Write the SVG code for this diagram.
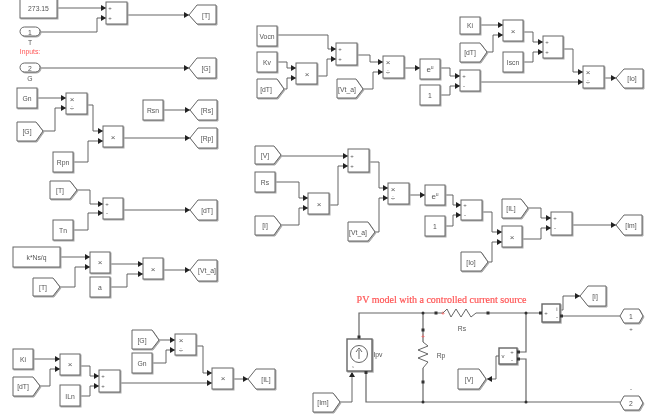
<svg xmlns="http://www.w3.org/2000/svg" width="661" height="419" viewBox="0 0 661 419">
<style>
text{font-family:"Liberation Sans",Arial,sans-serif;font-size:6.800px;fill:#555;text-anchor:middle;dominant-baseline:central}
.s{fill:#fff;stroke:#666;stroke-width:1;filter:drop-shadow(1px 1px 0 #aaa)}
.c path{fill:none;stroke:#555;stroke-width:.9}
.c .a{marker-end:url(#ah)}
.c .p{stroke:#666;stroke-width:1.2}
.t{font-size:6px}
.m{font-size:8px}
.r{fill:#f55}
.d{fill:#333;stroke:none}
.z{fill:none;stroke:#555;stroke-width:.9}
.th{stroke-width:1.400}
</style>
<defs>
<marker id="ah" markerUnits="userSpaceOnUse" markerWidth="6" markerHeight="6" refX="5" refY="3" orient="auto"><path d="M0 0L5 3L0 6Z" fill="#222"/></marker>
<filter id="soft" filterUnits="userSpaceOnUse" x="0" y="0" width="661" height="419"><feGaussianBlur stdDeviation="0.35"/></filter>
</defs>
<rect width="661" height="419" fill="#fff"/>
<g id="diagram" filter="url(#soft)">
<g class="c" id="connectors">
<path class="a" d="M57 8H106"/><path class="a" d="M40 32H97V18H106"/><path class="a" d="M127 15H189"/>
<path class="a" d="M40 68H189"/>
<path class="a" d="M37 98H66"/><path class="a" d="M43 131H55V108H66"/><path class="a" d="M87 105H93V131H103"/><path class="a" d="M73 162H88V141H103"/><path class="a" d="M123 138H190"/><path class="a" d="M163 110H190"/>
<path class="a" d="M77 190H90V204H103"/><path class="a" d="M73 230H88V213H103"/><path class="a" d="M123 210H190"/>
<path class="a" d="M60 257H90"/><path class="a" d="M60 287H75V267H90"/><path class="a" d="M110 264H143"/><path class="a" d="M110 287H127V274H143"/><path class="a" d="M163 270H190"/>
<path class="a" d="M33 359H60"/><path class="a" d="M40 386H50V369H60"/><path class="a" d="M80 366H90V376H99"/><path class="a" d="M80 396H90V386H99"/><path class="a" d="M120 383H212"/><path class="a" d="M159 340H175"/><path class="a" d="M152 363H166V350H175"/><path class="a" d="M196 346H203V373H212"/><path class="a" d="M233 379H248"/>
<path class="a" d="M277 35H328V49H336"/><path class="a" d="M277 62H287V68H296"/><path class="a" d="M284 89H287V78H296"/><path class="a" d="M317 76H327V59H336"/><path class="a" d="M357 55H370V62H383"/><path class="a" d="M363 89H373V72H383"/><path class="a" d="M404 68H420"/><path class="a" d="M440 68H450V76H460"/><path class="a" d="M440 95H450V86H460"/><path class="a" d="M480 82H583"/><path class="a" d="M480 25H503"/><path class="a" d="M487 52H493V35H503"/><path class="a" d="M523 32H533V42H543"/><path class="a" d="M523 62H533V52H543"/><path class="a" d="M563 49H573V72H583"/><path class="a" d="M604 78H616"/>
<path class="a" d="M281 156H348"/><path class="a" d="M275 182H299V198H308"/><path class="a" d="M281 225H299V208H308"/><path class="a" d="M329 205H338V166H348"/><path class="a" d="M369 162H379V188H388"/><path class="a" d="M375 232H379V198H388"/><path class="a" d="M409 195H425"/><path class="a" d="M445 195H453V205H461"/><path class="a" d="M445 226H453V215H461"/><path class="a" d="M482 212H492V232H502"/><path class="a" d="M488 262H492V242H502"/><path class="a" d="M522 239H541V228H551"/><path class="a" d="M528 208H541V218H551"/><path class="a" d="M572 225H616"/>
<path class="p" d="M359 339V313H443"/><path class="p" d="M484 313H542"/><path class="p" d="M366 371V402H620"/><path class="p" d="M423 313V342"/><path class="p" d="M423 368V402"/><path class="p" d="M560 316H620"/><path class="p" d="M518 352H526V313"/><path class="p" d="M518 359H526V402"/>
<path class="a" d="M340 402H352V372"/><path class="a" d="M561 310H563V296H580"/><path class="a" d="M499 356H496V379H487"/>
</g>
<g id="n-const-27315"><rect class="s" x="20" y="-1" width="37" height="19"/><text x="38.500" y="8">273.15</text></g>
<g id="n-sum-t"><rect class="s" x="106" y="2" width="21" height="22"/><text class="t" x="110" y="8">+</text><text class="t" x="110" y="18">+</text></g>
<g id="n-goto-t"><path class="s" d="M189 15L197 5H216V24H197Z"/><text x="206" y="15">[T]</text></g>
<g id="n-in-t"><rect class="s" x="20" y="27" width="20" height="9" rx="4.500"/><text x="30" y="32">1</text><text x="30" y="42">T</text></g>
<text class="r" x="30" y="51">Inputs:</text>
<g id="n-in-g"><rect class="s" x="20" y="63" width="20" height="9" rx="4.500"/><text x="30" y="68">2</text><text x="30" y="78">G</text></g>
<g id="n-goto-g"><path class="s" d="M189 68L197 58H216V78H197Z"/><text x="206" y="68">[G]</text></g>
<g id="n-gn1"><rect class="s" x="17" y="88" width="20" height="20"/><text x="27" y="98">Gn</text></g>
<g id="n-from-g1"><path class="s" d="M17 122H36L43 131L36 141H17Z"/><text x="27" y="131">[G]</text></g>
<g id="n-div1"><rect class="s" x="66" y="93" width="21" height="21"/><text class="m" x="72" y="99">×</text><text class="m" x="72" y="108">÷</text></g>
<g id="n-mul1"><rect class="s" x="103" y="126" width="20" height="21"/><text class="m" x="113" y="137">×</text></g>
<g id="n-rpn"><rect class="s" x="53" y="152" width="20" height="20"/><text x="63" y="162">Rpn</text></g>
<g id="n-rsn"><rect class="s" x="143" y="100" width="20" height="20"/><text x="153" y="110">Rsn</text></g>
<g id="n-goto-rs"><path class="s" d="M190 110L198 100H217V120H198Z"/><text x="207" y="110">[Rs]</text></g>
<g id="n-goto-rp"><path class="s" d="M190 138L198 128H217V148H198Z"/><text x="207" y="138">[Rp]</text></g>
<g id="n-from-t1"><path class="s" d="M50 181H70L77 190L70 199H50Z"/><text x="60" y="190">[T]</text></g>
<g id="n-sum-dt"><rect class="s" x="103" y="198" width="20" height="21"/><text class="t" x="107" y="204">+</text><text class="t" x="107" y="213">-</text></g>
<g id="n-tn"><rect class="s" x="53" y="220" width="20" height="20"/><text x="63" y="230">Tn</text></g>
<g id="n-goto-dt"><path class="s" d="M190 210L198 200H217V220H198Z"/><text x="207" y="210">[dT]</text></g>
<g id="n-kns"><rect class="s" x="13" y="247" width="47" height="20"/><text x="36.500" y="257">k*Ns/q</text></g>
<g id="n-from-t2"><path class="s" d="M33 278H53L60 287L53 296H33Z"/><text x="43" y="287">[T]</text></g>
<g id="n-mul2"><rect class="s" x="90" y="252" width="20" height="21"/><text class="m" x="100" y="262">×</text></g>
<g id="n-a"><rect class="s" x="90" y="277" width="20" height="20"/><text x="100" y="287">a</text></g>
<g id="n-mul3"><rect class="s" x="143" y="258" width="20" height="21"/><text class="m" x="153" y="269">×</text></g>
<g id="n-goto-vta"><path class="s" d="M190 270L198 260H217V281H198Z"/><text x="207" y="270">[Vt_a]</text></g>
<g id="n-ki1"><rect class="s" x="13" y="349" width="20" height="20"/><text x="23" y="359">Ki</text></g>
<g id="n-from-dt1"><path class="s" d="M13 377H33L40 386L33 396H13Z"/><text x="23" y="386">[dT]</text></g>
<g id="n-mul4"><rect class="s" x="60" y="354" width="20" height="21"/><text class="m" x="70" y="364">×</text></g>
<g id="n-iln"><rect class="s" x="60" y="385" width="20" height="21"/><text x="70" y="396">ILn</text></g>
<g id="n-sum-il"><rect class="s" x="99" y="370" width="21" height="22"/><text class="t" x="103" y="376">+</text><text class="t" x="103" y="386">+</text></g>
<g id="n-from-g2"><path class="s" d="M132 330H152L159 340L152 349H132Z"/><text x="142" y="340">[G]</text></g>
<g id="n-gn2"><rect class="s" x="132" y="353" width="20" height="20"/><text x="142" y="363">Gn</text></g>
<g id="n-div2"><rect class="s" x="175" y="334" width="21" height="21"/><text class="m" x="181" y="340">×</text><text class="m" x="181" y="350">÷</text></g>
<g id="n-mul5"><rect class="s" x="212" y="368" width="21" height="21"/><text class="m" x="223" y="378">×</text></g>
<g id="n-goto-il"><path class="s" d="M248 379L256 369H275V389H256Z"/><text x="266" y="379">[IL]</text></g>
<g id="n-vocn"><rect class="s" x="257" y="26" width="20" height="20"/><text x="267" y="36">Vocn</text></g>
<g id="n-kv"><rect class="s" x="257" y="52" width="20" height="20"/><text x="267" y="62">Kv</text></g>
<g id="n-from-dt2"><path class="s" d="M257 79H277L284 89L277 98H257Z"/><text x="266" y="89">[dT]</text></g>
<g id="n-mul6"><rect class="s" x="296" y="63" width="21" height="21"/><text class="m" x="307" y="74">×</text></g>
<g id="n-sum-voc"><rect class="s" x="336" y="43" width="21" height="22"/><text class="t" x="340" y="49">+</text><text class="t" x="340" y="59">+</text></g>
<g id="n-from-vta1"><path class="s" d="M337 79H356L363 89L356 98H337Z"/><text x="347" y="89">[Vt_a]</text></g>
<g id="n-div3"><rect class="s" x="383" y="56" width="21" height="22"/><text class="m" x="388" y="62">×</text><text class="m" x="388" y="72">÷</text></g>
<g id="n-exp1"><rect class="s" x="420" y="59" width="20" height="20"/><text class="m" x="430" y="69">e<tspan dy="-2" font-size="5">u</tspan></text></g>
<g id="n-one1"><rect class="s" x="420" y="85" width="20" height="20"/><text x="430" y="95">1</text></g>
<g id="n-sum-e1"><rect class="s" x="460" y="70" width="20" height="21"/><text class="t" x="464" y="76">+</text><text class="t" x="464" y="86">-</text></g>
<g id="n-ki2"><rect class="s" x="460" y="17" width="20" height="17"/><text x="470" y="25">Ki</text></g>
<g id="n-from-dt3"><path class="s" d="M460 43H480L487 52L480 62H460Z"/><text x="470" y="52">[dT]</text></g>
<g id="n-mul7"><rect class="s" x="503" y="20" width="20" height="21"/><text class="m" x="513" y="31">×</text></g>
<g id="n-iscn"><rect class="s" x="503" y="52" width="20" height="20"/><text x="513" y="62">Iscn</text></g>
<g id="n-sum-isc"><rect class="s" x="543" y="36" width="20" height="22"/><text class="t" x="547" y="42">+</text><text class="t" x="547" y="52">+</text></g>
<g id="n-div4"><rect class="s" x="583" y="66" width="21" height="22"/><text class="m" x="588" y="72">×</text><text class="m" x="588" y="82">÷</text></g>
<g id="n-goto-io"><path class="s" d="M616 78L624 69H643V88H624Z"/><text x="632" y="78">[Io]</text></g>
<g id="n-from-v"><path class="s" d="M255 146H274L281 155L274 164H255Z"/><text x="265" y="155">[V]</text></g>
<g id="n-rs"><rect class="s" x="255" y="172" width="20" height="20"/><text x="265" y="182">Rs</text></g>
<g id="n-from-i"><path class="s" d="M255 216H274L281 225L274 235H255Z"/><text x="265" y="225">[I]</text></g>
<g id="n-mul8"><rect class="s" x="308" y="193" width="21" height="21"/><text class="m" x="319" y="204">×</text></g>
<g id="n-sum-v"><rect class="s" x="348" y="149" width="21" height="23"/><text class="t" x="352" y="156">+</text><text class="t" x="352" y="166">+</text></g>
<g id="n-from-vta2"><path class="s" d="M348 222H368L375 232L368 241H348Z"/><text x="358" y="232">[Vt_a]</text></g>
<g id="n-div5"><rect class="s" x="388" y="183" width="21" height="21"/><text class="m" x="393" y="189">×</text><text class="m" x="393" y="198">÷</text></g>
<g id="n-exp2"><rect class="s" x="425" y="185" width="20" height="20"/><text class="m" x="435" y="196">e<tspan dy="-2" font-size="5">u</tspan></text></g>
<g id="n-one2"><rect class="s" x="425" y="216" width="20" height="20"/><text x="435" y="226">1</text></g>
<g id="n-sum-e2"><rect class="s" x="461" y="200" width="21" height="20"/><text class="t" x="465" y="205">+</text><text class="t" x="465" y="215">-</text></g>
<g id="n-from-io"><path class="s" d="M461 252H481L488 262L481 271H461Z"/><text x="471" y="262">[Io]</text></g>
<g id="n-mul9"><rect class="s" x="502" y="226" width="20" height="21"/><text class="m" x="512" y="237">×</text></g>
<g id="n-from-il"><path class="s" d="M502 199H521L528 208L521 218H502Z"/><text x="511" y="208">[IL]</text></g>
<g id="n-sum-im"><rect class="s" x="551" y="212" width="21" height="23"/><text class="t" x="555" y="218">+</text><text class="t" x="555" y="228">-</text></g>
<g id="n-goto-im"><path class="s" d="M616 225L624 215H642V235H624Z"/><text x="631" y="225">[Im]</text></g>
<text class="r" x="441.500" y="299" style="font-family:'Liberation Serif',serif;font-size:10px;stroke:#f55;stroke-width:.2">PV model with a controlled current source</text>
<g id="n-ipv"><rect class="s th" x="347" y="339" width="25" height="32"/><circle class="z" cx="359" cy="354" r="8.500"/><path class="z" d="M359 359V350M356 352L359 348L362 352"/><text style="font-size:3px" x="353" y="367">s</text><text x="378" y="354">Ipv</text><rect class="d" x="357.500" y="335.500" width="3" height="3"/><rect class="d" x="364.500" y="371" width="3" height="3"/></g>
<g id="n-rp"><path class="z" d="M423 342L428 346L418 350L428 354L418 358L428 362L423 368"/><rect class="d" x="421.500" y="328.500" width="3" height="3"/><rect class="d" x="421.500" y="380.500" width="3" height="3"/><text class="r" x="423" y="336.500">+</text><text x="441" y="355">Rp</text></g>
<g id="n-rs-res"><path class="z" d="M443 313L447 309L451 317L456 309L461 317L466 309L471 317L476 313H484"/><rect class="d" x="434.500" y="311.500" width="3" height="3"/><rect class="d" x="486.500" y="311.500" width="3" height="3"/><text class="r" x="443" y="313">+</text><text x="462" y="328">Rs</text></g>
<g id="junctions"><circle class="d" cx="423" cy="313" r="1.500"/><circle class="d" cx="423" cy="402" r="1.500"/><circle class="d" cx="526" cy="313" r="1.500"/><circle class="d" cx="526" cy="402" r="1.500"/></g>
<g id="n-imeas"><rect class="s th" x="542" y="304" width="18" height="18"/><text class="t" x="546" y="313">+</text><text class="t" x="557" y="309">i</text><text class="t" x="557" y="317">-</text><rect class="d" x="539" y="311.500" width="3" height="3"/><rect class="d" x="560" y="314.500" width="3" height="3"/></g>
<g id="n-goto-i"><path class="s" d="M580 296L588 286H606V306H588Z"/><text x="595" y="296">[I]</text></g>
<g id="n-out1"><path class="s" d="M620 316L624 309H639L643 316L639 323H624Z"/><text x="631" y="316">1</text><text class="t" x="631" y="329">+</text></g>
<g id="n-out2"><path class="s" d="M620 403L624 396H639L643 403L639 410H624Z"/><text x="631" y="403">2</text><text class="t" x="631" y="389">-</text></g>
<g id="n-vmeas"><rect class="s th" x="499" y="348" width="18" height="16"/><text class="t" x="503" y="356">v</text><text class="t" x="512" y="352">+</text><text class="t" x="512" y="360">-</text><rect class="d" x="517" y="350.500" width="3" height="3"/><rect class="d" x="517" y="357.500" width="3" height="3"/></g>
<g id="n-goto-v"><path class="s" d="M458 369H479L486 379L479 389H458Z"/><text x="469" y="379">[V]</text></g>
<g id="n-from-im"><path class="s" d="M313 393H333L340 402L333 412H313Z"/><text x="323" y="402">[Im]</text></g>
</g>
</svg>
